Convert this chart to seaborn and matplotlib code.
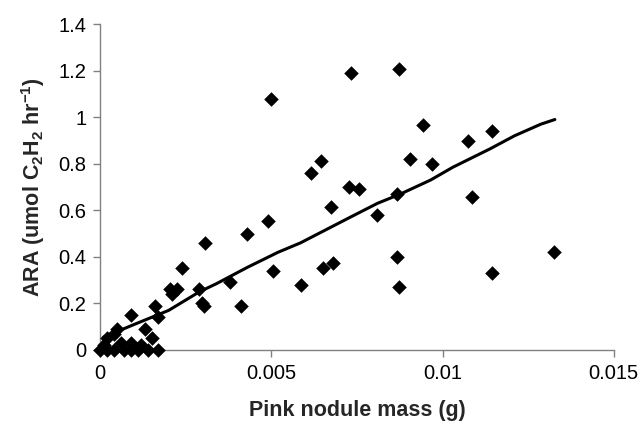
import matplotlib
matplotlib.use("Agg")
import matplotlib.pyplot as plt
import seaborn as sns
import pandas as pd

sns.set_theme(style="white")
plt.rcParams['font.family'] = ['Liberation Sans', 'DejaVu Sans']
plt.rcParams.update({
    'mathtext.fontset': 'custom',
    'mathtext.rm': 'Liberation Sans',
    'mathtext.bf': 'Liberation Sans:bold',
    'mathtext.default': 'bf',
})

# nodule mass (g) vs ARA
mass = [0.0000, 0.0002, 0.0004, 0.0007, 0.0009, 0.0011, 0.0014, 0.0017, 0.0001,
        0.0002, 0.0004, 0.0005, 0.0006, 0.0009, 0.0012, 0.0013, 0.0015, 0.0009,
        0.0016, 0.0017, 0.00205, 0.00225, 0.0021, 0.0024, 0.0029, 0.00298,
        0.00304, 0.00307, 0.0038, 0.0041, 0.0043, 0.0049, 0.0050, 0.00506,
        0.00587, 0.00617, 0.00646, 0.00652, 0.00675, 0.00681, 0.00728,
        0.00734, 0.00757, 0.0081, 0.00868, 0.00868, 0.00874, 0.00874,
        0.00904, 0.00944, 0.00968, 0.01073, 0.01085, 0.01143, 0.01143,
        0.01325]
ara = [0.0, 0.0, 0.0, 0.0, 0.0, 0.0, 0.0, 0.0, 0.02,
       0.05, 0.07, 0.09, 0.03, 0.03, 0.02, 0.09, 0.05, 0.15,
       0.19, 0.14, 0.26, 0.26, 0.24, 0.35, 0.26, 0.20,
       0.19, 0.46, 0.29, 0.19, 0.50, 0.554, 1.077, 0.34,
       0.28, 0.76, 0.811, 0.35, 0.614, 0.373, 0.70,
       1.189, 0.69, 0.58, 0.67, 0.40, 1.206, 0.27,
       0.82, 0.966, 0.80, 0.897, 0.657, 0.94, 0.33,
       0.42]

# moving-average trend line
trend_x = [0.0001, 0.0010, 0.0020, 0.0029, 0.0034, 0.0043, 0.0052, 0.00585,
           0.0073, 0.0081, 0.00877, 0.00965, 0.0103, 0.0114, 0.0121, 0.01287, 0.01328]
trend_y = [0.055, 0.11, 0.17, 0.25, 0.285, 0.355, 0.42, 0.46,
           0.57, 0.63, 0.67, 0.73, 0.785, 0.865, 0.92, 0.97, 0.99]

df = pd.DataFrame({'mass': mass, 'ara': ara})
df_trend = pd.DataFrame({'x': trend_x, 'y': trend_y})

fig, ax = plt.subplots(figsize=(6.42, 4.38), dpi=100)
fig.subplots_adjust(left=0.156, right=0.956, bottom=0.201, top=0.945)

sns.scatterplot(data=df, x='mass', y='ara', marker='D', s=55, color='black',
                edgecolor='black', linewidth=0, ax=ax, zorder=3, clip_on=False)
sns.lineplot(data=df_trend, x='x', y='y', sort=False, estimator=None,
             color='black', linewidth=2.2, ax=ax, zorder=4)

ax.set_xlim(0, 0.015)
ax.set_ylim(0, 1.4)
ax.set_xticks([0, 0.005, 0.01, 0.015])
ax.set_xticklabels(['0', '0.005', '0.01', '0.015'])
ax.set_yticks([0, 0.2, 0.4, 0.6, 0.8, 1.0, 1.2, 1.4])
ax.set_yticklabels(['0', '0.2', '0.4', '0.6', '0.8', '1', '1.2', '1.4'])

ax.set_xlabel('Pink nodule mass (g)', fontsize=15.5, fontweight='bold', labelpad=12)
ax.set_ylabel('ARA (umol C$_2$H$_2$ hr$^{-1}$)', fontsize=15.5, fontweight='bold', labelpad=8)

for side in ['top', 'right']:
    ax.spines[side].set_visible(False)
for side in ['left', 'bottom']:
    ax.spines[side].set_color('#808080')
    ax.spines[side].set_linewidth(1)
ax.tick_params(axis='both', which='major', direction='out', length=5, width=1,
               color='#808080', labelsize=14.5, labelcolor='black', pad=5,
               bottom=True, left=True)
ax.grid(False)

fig.savefig('out.png', dpi=100, facecolor='white')
